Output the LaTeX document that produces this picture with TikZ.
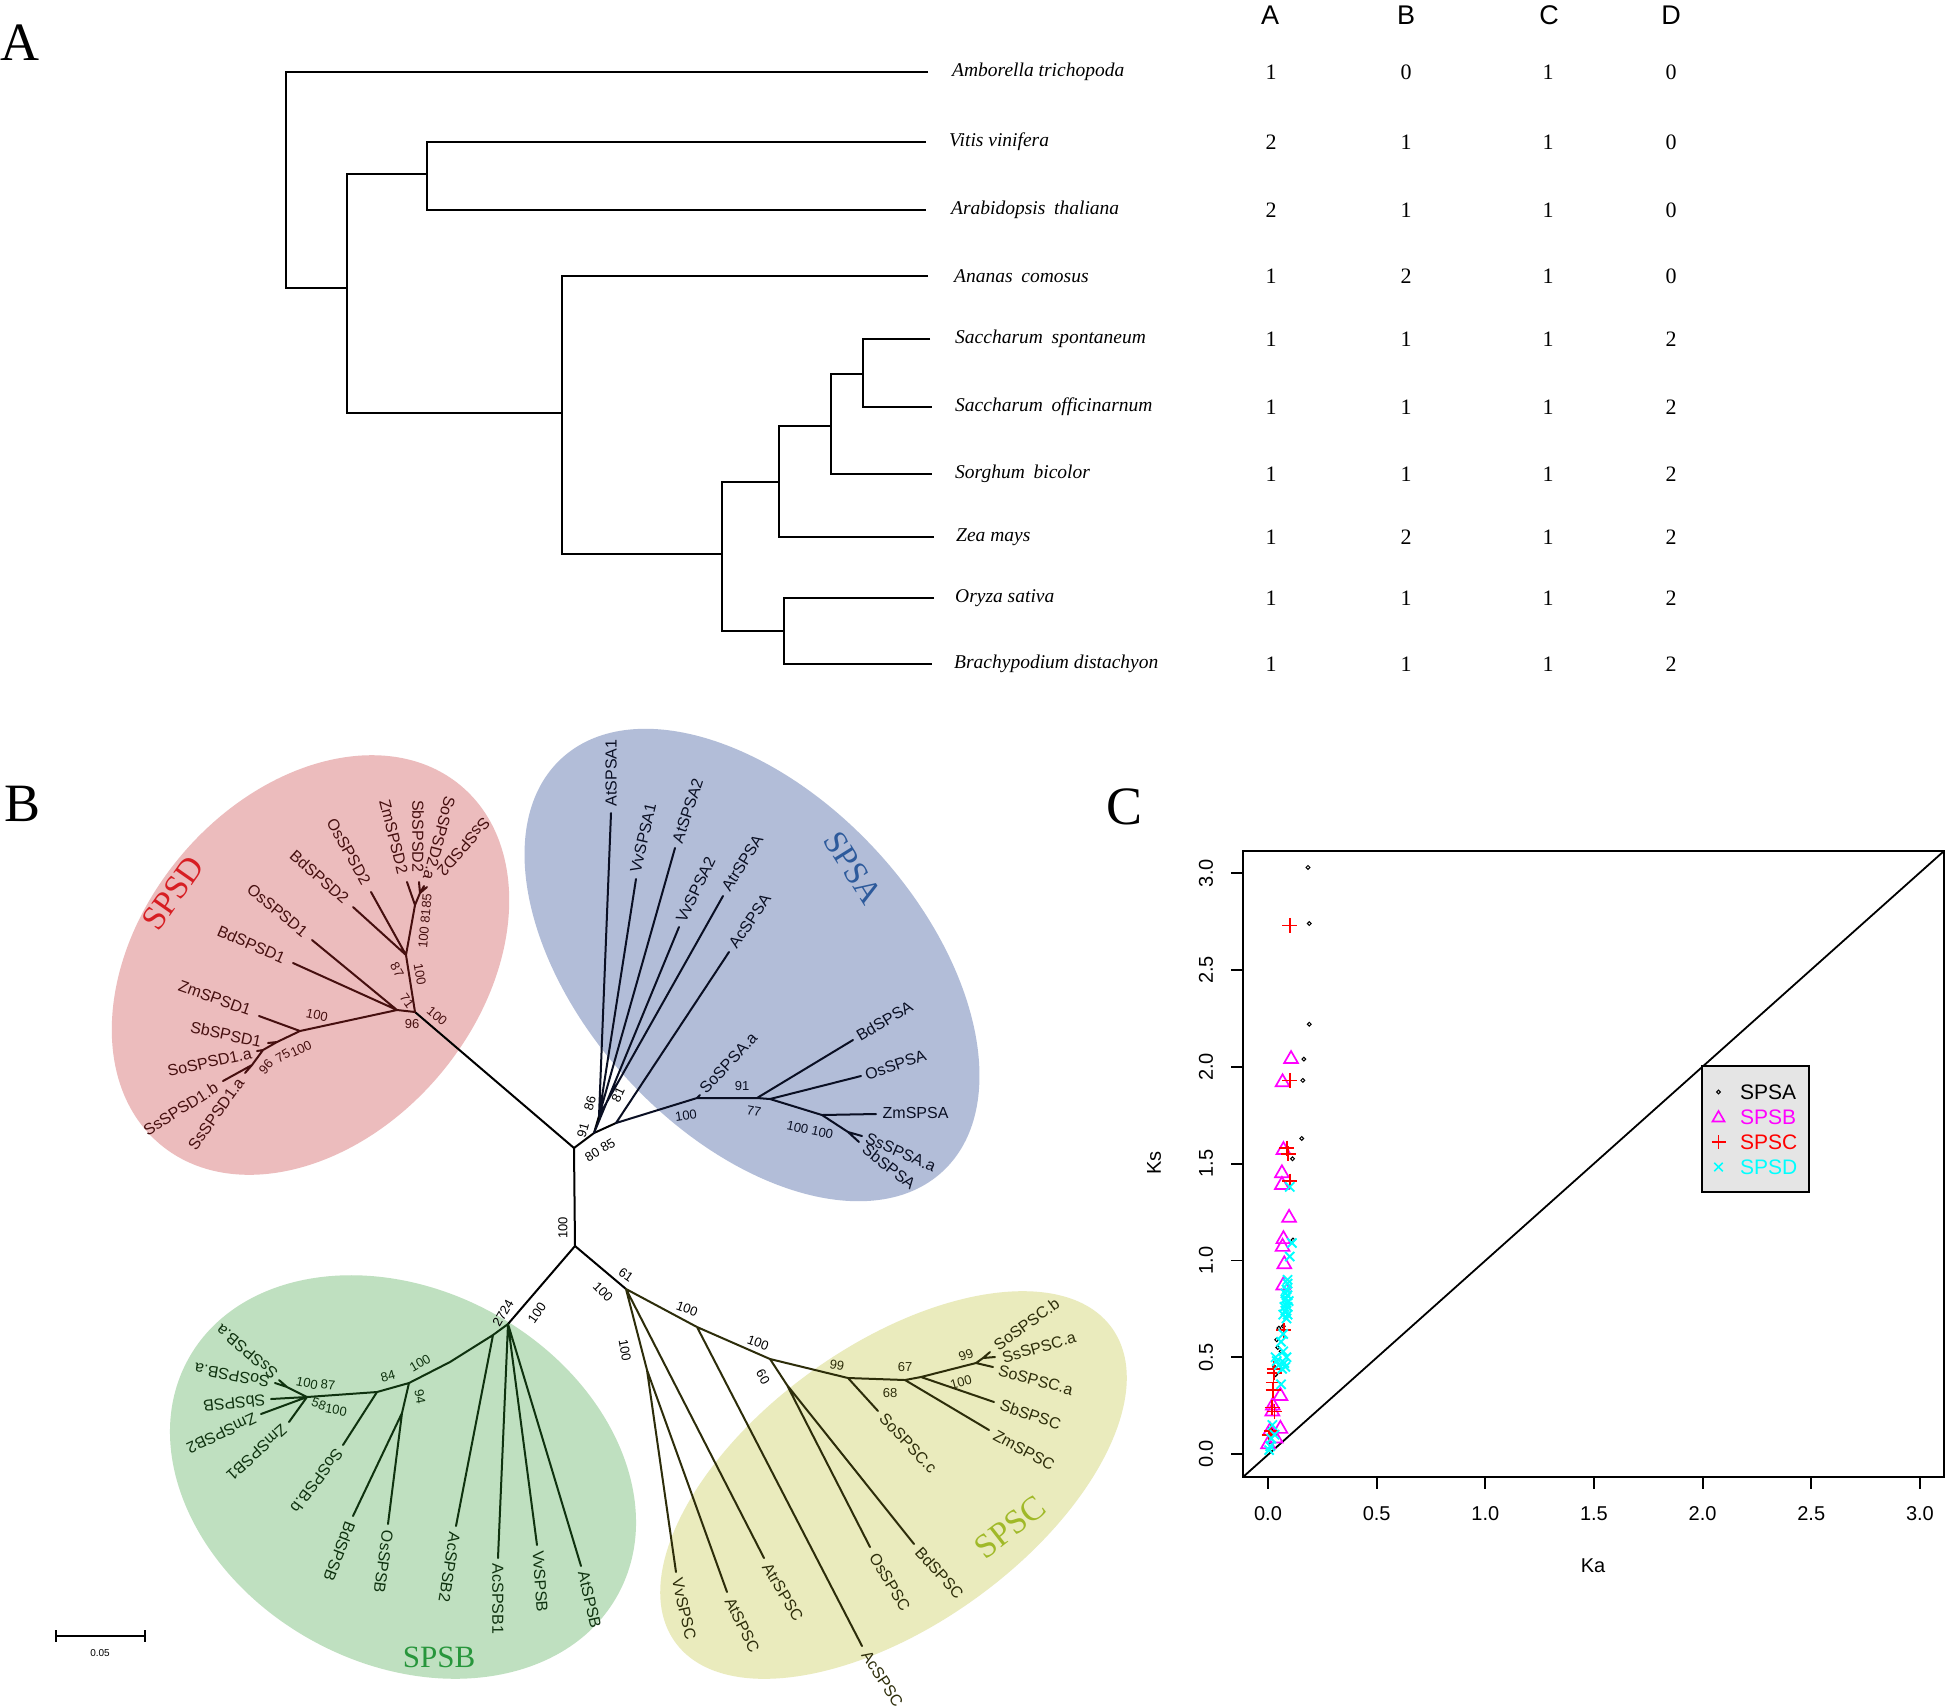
\documentclass[tikz,border=0pt]{standalone}
\usepackage{fontspec}
\setmainfont{Liberation Serif}
\setsansfont{Liberation Sans}
\usetikzlibrary{plotmarks}
\definecolor{pkfill}{RGB}{236,188,189}
\definecolor{blfill}{RGB}{178,189,216}
\definecolor{grfill}{RGB}{191,224,192}
\definecolor{ylfill}{RGB}{234,235,189}
\definecolor{pkink}{RGB}{70,15,15}
\definecolor{blink}{RGB}{10,15,35}
\definecolor{grink}{RGB}{15,50,15}
\definecolor{ylink}{RGB}{45,45,10}
\definecolor{spsdred}{RGB}{215,30,35}
\definecolor{spsablue}{RGB}{45,90,155}
\definecolor{spsbgreen}{RGB}{40,150,60}
\definecolor{spscgreen}{RGB}{160,185,40}
\definecolor{legbg}{RGB}{229,229,229}
\definecolor{mkmag}{RGB}{255,0,255}
\definecolor{mkred}{RGB}{255,0,0}
\definecolor{mkcyan}{RGB}{0,255,255}
\begin{document}
\begin{tikzpicture}[x=1pt,y=-1pt,
  trl/.style={line width=2.3pt},
  br/.style={line width=2pt, line cap=round, line join=round},
  tipl/.style={font=\sffamily\fontsize{16}{18}\selectfont, inner sep=0.5pt},
  boot/.style={font=\sffamily\fontsize{13}{15}\selectfont, inner sep=0pt},
  taxon/.style={font=\rmfamily\itshape\fontsize{19.5}{22}\selectfont, anchor=west, inner sep=0pt},
  num/.style={font=\rmfamily\fontsize{22}{24}\selectfont, inner sep=0pt},
  hdr/.style={font=\sffamily\fontsize{27}{30}\selectfont, inner sep=0pt},
  panel/.style={font=\rmfamily\fontsize{54}{60}\selectfont, inner sep=0pt},
  clade/.style={font=\rmfamily\fontsize{34}{38}\selectfont, inner sep=0pt},
  tick/.style={font=\sffamily\fontsize{20}{22}\selectfont, inner sep=0pt},
  axl/.style={line width=1.8pt}]
\useasboundingbox (0,0) rectangle (1946,1706);
\fill[white] (0,0) rectangle (1946,1706);

%%%%%%%%%%%%%%%% Panel A %%%%%%%%%%%%%%%%
\node[panel] (pA) at (20,43) {A};
\coordinate (tAmb) at (928,72);
\coordinate (tVit) at (926,142);
\coordinate (tAra) at (926,210);
\coordinate (tAna) at (928,276);
\coordinate (tSaS) at (930,339);
\coordinate (tSaO) at (932,407);
\coordinate (tSor) at (932,474);
\coordinate (tZea) at (934,537);
\coordinate (tOry) at (934,598);
\coordinate (tBra) at (932,664);
\coordinate (R) at (286,288);
\coordinate (a1) at (347,288);
\coordinate (a2) at (427,174);
\coordinate (a3) at (562,413);
\coordinate (a4) at (722,554);
\coordinate (a5) at (779,482);
\coordinate (a6) at (831,426);
\coordinate (a7) at (863,374);
\coordinate (a8) at (784,631);
\draw[trl] (tAmb) -| (R) -- (a1);
\draw[trl] (a2) -| (a1) |- (a3);
\draw[trl] (tVit) -| (a2) |- (tAra);
\draw[trl] (tAna) -| (a3) |- (a4);
\draw[trl] (a5) -| (a4) |- (a8);
\draw[trl] (a6) -| (a5) |- (tZea);
\draw[trl] (a7) -| (a6) |- (tSor);
\draw[trl] (tSaS) -| (a7) |- (tSaO);
\draw[trl] (tOry) -| (a8) |- (tBra);
\node[taxon] (lAmb) at (952,72) {Amborella trichopoda};
\node[taxon] (lVit) at (949,142) {Vitis vinifera};
\node[taxon] (lAra) at (951,210) {Arabidopsis\hspace{0.45em}thaliana};
\node[taxon] (lAna) at (954,276) {Ananas\hspace{0.45em}comosus};
\node[taxon] (lSaS) at (955,339) {Saccharum\hspace{0.45em}spontaneum};
\node[taxon] (lSaO) at (955,407) {Saccharum\hspace{0.45em}officinarnum};
\node[taxon] (lSor) at (955,474) {Sorghum\hspace{0.45em}bicolor};
\node[taxon] (lZea) at (956,537) {Zea mays};
\node[taxon] (lOry) at (955,598) {Oryza sativa};
\node[taxon] (lBra) at (954,664) {Brachypodium distachyon};
\node[hdr] (hA) at (1270,15) {A};
\node[hdr] (hB) at (1406,15) {B};
\node[hdr] (hC) at (1549,15) {C};
\node[hdr] (hD) at (1671,15) {D};
\foreach \y/\a/\b/\c/\d [count=\i] in {72/1/0/1/0, 142/2/1/1/0, 210/2/1/1/0, 276/1/2/1/0, 339/1/1/1/2, 407/1/1/1/2, 474/1/1/1/2, 537/1/2/1/2, 598/1/1/1/2, 664/1/1/1/2}{
  \node[num] (nA\i) at (1271,\y) {\a};
  \node[num] (nB\i) at (1406,\y) {\b};
  \node[num] (nC\i) at (1548,\y) {\c};
  \node[num] (nD\i) at (1671,\y) {\d};
}

%%%%%%%%%%%%%%%% Panel B %%%%%%%%%%%%%%%%
\node[panel] (pB) at (23,804) {B};
\fill[pkfill, shift={(310.5,965)}, rotate=50] (0,0) ellipse [x radius=234, y radius=169.5];
\fill[blfill, shift={(752,965)}, rotate=-47.3] (0,0) ellipse [x radius=281, y radius=169];
\fill[grfill, shift={(403,1477)}, rotate=-28.6] (0,0) ellipse [x radius=245, y radius=187];
\fill[ylfill, shift={(893.5,1485)}, rotate=35.7] (0,0) ellipse [x radius=269, y radius=140];

\node[clade, text=spsdred, rotate=55] (cD) at (173,893) {SPSD};
\node[clade, text=spsablue, rotate=-58, font=\rmfamily\fontsize{33}{36}\selectfont] (cA) at (853,868) {SPSA};
\node[clade, text=spsbgreen, font=\rmfamily\fontsize{31}{34}\selectfont] (cB) at (439,1657) {SPSB};
\node[clade, text=spscgreen, rotate=38] (cC) at (1010,1527) {SPSC};

% centre
\coordinate (N0) at (574,1148);
\coordinate (Nbot) at (575,1246);
\draw[br] (N0) -- (Nbot);
\node[boot, rotate=90] (b0) at (563,1228) {100};

% ---- SPSD ----
\coordinate (Nd1) at (415,1012);
\coordinate (Nd1a) at (397,1010);
\coordinate (Nd2) at (406,955);
\coordinate (Nd3) at (415,905);
\coordinate (Nd4) at (420,893);
\coordinate (Nd5) at (300,1031);
\coordinate (Nd6) at (277,1042);
\coordinate (Nd7) at (263,1050);
\coordinate (Nd8) at (252,1065);
\coordinate (tSsDIb) at (223,1081);
\coordinate (tSsDIa) at (245,1073);
\coordinate (tSoDIa) at (257,1051);
\coordinate (tSbDI) at (268,1043);
\coordinate (tZmDI) at (259,1016);
\coordinate (tBdDI) at (293,963);
\coordinate (tOsDI) at (312,940);
\coordinate (tBdDII) at (353,907);
\coordinate (tOsDII) at (371,892);
\coordinate (tZmDII) at (407,882);
\coordinate (tSbDII) at (419,882);
\coordinate (tSoDIIa) at (424,886);
\coordinate (tSsDII) at (427,887);
\draw[br] (N0) -- (Nd1);
\draw[br, pkink] (Nd1) -- (Nd1a) (Nd1a) -- (tBdDI) (Nd1a) -- (tOsDI) (Nd1a) -- (Nd5)
  (Nd5) -- (tZmDI) (Nd5) -- (Nd6) (Nd6) -- (tSbDI) (Nd6) -- (Nd7) (Nd7) -- (tSoDIa)
  (Nd7) -- (Nd8) (Nd8) -- (tSsDIa) (Nd8) -- (tSsDIb)
  (Nd1) -- (Nd2) (Nd2) -- (tBdDII) (Nd2) -- (tOsDII) (Nd2) -- (Nd3) (Nd3) -- (tZmDII)
  (Nd3) -- (Nd4) (Nd4) -- (tSbDII) (Nd4) -- (tSoDIIa) (Nd4) -- (tSsDII);
\node[tipl, text=pkink, rotate=-131, anchor=east] (lSsDII) at (440,874) {SsSPSD2};
\node[tipl, text=pkink, rotate=-105, anchor=east] (lSoDIIa) at (428,880) {SoSPSD2.a};
\node[tipl, text=pkink, rotate=-90, anchor=east] (lSbDII) at (418,873) {SbSPSD2};
\node[tipl, text=pkink, rotate=-76, anchor=east] (lZmDII) at (403,874) {ZmSPSD2};
\node[tipl, text=pkink, rotate=-60.6, anchor=east] (lOsDII) at (367,884) {OsSPSD2};
\node[tipl, text=pkink, rotate=-41.4, anchor=east] (lBdDII) at (347,901) {BdSPSD2};
\node[tipl, text=pkink, rotate=-39.6, anchor=east] (lOsDI) at (306,934) {OsSPSD1};
\node[tipl, text=pkink, rotate=-23.7, anchor=east] (lBdDI) at (285,959) {BdSPSD1};
\node[tipl, text=pkink, rotate=-19.6, anchor=east] (lZmDI) at (251,1011) {ZmSPSD1};
\node[tipl, text=pkink, rotate=-11.8, anchor=east] (lSbDI) at (262,1042) {SbSPSD1};
\node[tipl, text=pkink, rotate=12, anchor=east] (lSoDIa) at (252,1053) {SoSPSD1.a};
\node[tipl, text=pkink, rotate=32, anchor=east] (lSsDIb) at (217,1086) {SsSPSD1.b};
\node[tipl, text=pkink, rotate=54.5, anchor=east] (lSsDIa) at (241,1079) {SsSPSD1.a};
\node[boot, text=pkink, rotate=-40] (bD1) at (437,1016) {100};
\node[boot, text=pkink] (bD2) at (412,1024) {96};
\node[boot, text=pkink, rotate=-55] (bD3) at (407,1001) {71};
\node[boot, text=pkink, rotate=-60] (bD4) at (397,970) {87};
\node[boot, text=pkink, rotate=-80] (bD5) at (420,974) {100};
\node[boot, text=pkink, rotate=85] (bD6) at (425,921) {100 8185};
\node[boot, text=pkink, rotate=-12] (bD7) at (317,1015) {100};
\node[boot, text=pkink, rotate=50] (bD8) at (266,1067) {96};
\node[boot, text=pkink, rotate=30] (bD9) at (283,1056) {75};
\node[boot, text=pkink, rotate=25] (bD10) at (301,1049) {100};

% ---- SPSA ----
\coordinate (N1) at (594,1133);
\coordinate (Na) at (599,1116);
\coordinate (N2) at (616,1123);
\coordinate (N3) at (697,1098);
\coordinate (N4) at (757,1098);
\coordinate (N5) at (770,1099);
\coordinate (N6) at (822,1115);
\coordinate (N7) at (848,1132);
\coordinate (tAtAI) at (611,813);
\coordinate (tVvAI) at (636,879);
\coordinate (tAtAII) at (675,848);
\coordinate (tVvAII) at (679,927);
\coordinate (tAtrA) at (723,896);
\coordinate (tAcA) at (729,952);
\coordinate (tSoAa) at (700,1095);
\coordinate (tBdA) at (853,1040);
\coordinate (tOsA) at (861,1076);
\coordinate (tZmA) at (876,1114);
\coordinate (tSsAa) at (862,1136);
\coordinate (tSbA) at (859,1142);
\draw[br] (N0) -- (N1) (N1) -- (Na) (N1) -- (N2);
\draw[br, blink] (Na) -- (tAtAI) (Na) -- (tVvAI) (Na) -- (tAtAII) (N1) -- (tVvAII) (Na) -- (tAtrA)
  (N2) -- (tAcA) (N2) -- (N3) (N3) -- (tSoAa) (N3) -- (N4) (N4) -- (tBdA) (N4) -- (N5)
  (N5) -- (tOsA) (N5) -- (N6) (N6) -- (tZmA) (N6) -- (N7) (N7) -- (tSsAa) (N7) -- (tSbA);
\node[tipl, text=blink, rotate=90, anchor=west] (lAtAI) at (611,807) {AtSPSA1};
\node[tipl, text=blink, rotate=77, anchor=west] (lVvAI) at (635,873) {VvSPSA1};
\node[tipl, text=blink, rotate=71.6, anchor=west] (lAtAII) at (677,843) {AtSPSA2};
\node[tipl, text=blink, rotate=64, anchor=west] (lVvAII) at (680,922) {VvSPSA2};
\node[tipl, text=blink, rotate=57.5, anchor=west] (lAtrA) at (725,890) {AtrSPSA};
\node[tipl, text=blink, rotate=55.5, anchor=west] (lAcA) at (732,947) {AcSPSA};
\node[tipl, text=blink, rotate=46.7, anchor=west] (lSoAa) at (702,1091) {SoSPSA.a};
\node[tipl, text=blink, rotate=30.5, anchor=west] (lBdA) at (857,1037) {BdSPSA};
\node[tipl, text=blink, rotate=18.4, anchor=west] (lOsA) at (865,1075) {OsSPSA};
\node[tipl, text=blink, anchor=west] (lZmA) at (882,1113) {ZmSPSA};
\node[tipl, text=blink, rotate=-23.8, anchor=west] (lSsAa) at (866,1137) {SsSPSA.a};
\node[tipl, text=blink, rotate=-38, anchor=west] (lSbA) at (864,1147) {SbSPSA};
\node[boot, rotate=75] (bA1) at (590,1103) {86};
\node[boot, rotate=75] (bA2) at (583,1130) {91};
\node[boot, rotate=65] (bA3) at (618,1095) {81};
\node[boot, rotate=31] (bA4) at (600,1150) {80 85};
\node[boot, text=blink, rotate=8] (bA5) at (686,1116) {100};
\node[boot, text=blink] (bA6) at (742,1086) {91};
\node[boot, text=blink, rotate=-10] (bA7) at (754,1111) {77};
\node[boot, text=blink, rotate=-12] (bA8) at (810,1130) {100 100};

% ---- SPSB ----
\coordinate (Nb1) at (508,1324);
\coordinate (Nb1a) at (493,1335);
\coordinate (Nbm) at (450,1362);
\coordinate (Nb3) at (409,1383);
\coordinate (Nb4) at (402,1413);
\coordinate (Nb5) at (377,1392);
\coordinate (Nb6) at (307,1397);
\coordinate (Nbv) at (287,1387);
\coordinate (tAtB) at (581,1566);
\coordinate (tVvB) at (537,1545);
\coordinate (tAcBI) at (498,1558);
\coordinate (tAcBII) at (456,1526);
\coordinate (tOsB) at (388,1524);
\coordinate (tBdB) at (353,1516);
\coordinate (tSoBb) at (343,1445);
\coordinate (tZmBI) at (289,1422);
\coordinate (tZmBII) at (261,1414);
\coordinate (tSbB) at (271,1399);
\coordinate (tSsBa) at (279,1380);
\coordinate (tSoBa) at (275,1383);
\draw[br] (Nbot) -- (Nb1);
\draw[br, grink] (Nb1) -- (tAtB) (Nb1) -- (tVvB) (Nb1) -- (tAcBI) (Nb1) -- (Nb1a) (Nb1a) -- (tAcBII)
  (Nb1a) -- (Nbm) -- (Nb3) (Nb3) -- (Nb4) (Nb4) -- (tOsB) (Nb4) -- (tBdB) (Nb3) -- (Nb5)
  (Nb5) -- (tSoBb) (Nb5) -- (Nb6) (Nb6) -- (tSbB) (Nb6) -- (tZmBII) (Nb6) -- (tZmBI)
  (Nb6) -- (Nbv) (Nbv) -- (tSsBa) (Nbv) -- (tSoBa);
\node[tipl, text=grink, rotate=140, anchor=west] (lSsBa) at (276,1376) {SsSPSB.a};
\node[tipl, text=grink, rotate=170, anchor=west] (lSoBa) at (270,1382) {SoSPSB.a};
\node[tipl, text=grink, rotate=186, anchor=west] (lSbB) at (266,1400) {SbSPSB};
\node[tipl, text=grink, rotate=205, anchor=west] (lZmBII) at (256,1417) {ZmSPSB2};
\node[tipl, text=grink, rotate=222, anchor=west] (lZmBI) at (285,1427) {ZmSPSB1};
\node[tipl, text=grink, rotate=233, anchor=west] (lSoBb) at (340,1450) {SoSPSB.b};
\node[tipl, text=grink, rotate=249, anchor=west] (lBdB) at (351,1522) {BdSPSB};
\node[tipl, text=grink, rotate=262, anchor=west] (lOsB) at (388,1530) {OsSPSB};
\node[tipl, text=grink, rotate=261, anchor=west] (lAcBII) at (455,1532) {AcSPSB2};
\node[tipl, text=grink, rotate=270, anchor=west] (lAcBI) at (498,1563) {AcSPSB1};
\node[tipl, text=grink, rotate=274, anchor=west] (lVvB) at (538,1550) {VvSPSB};
\node[tipl, text=grink, rotate=283, anchor=west] (lAtB) at (583,1571) {AtSPSB};
\node[boot, rotate=60] (bB1) at (503,1313) {2724};
\node[boot, rotate=55] (bB2) at (537,1313) {100};
\node[boot, text=grink, rotate=30] (bB3) at (420,1363) {100};
\node[boot, text=grink, rotate=-80] (bB4) at (420,1397) {94};
\node[boot, text=grink, rotate=15] (bB5) at (388,1376) {84};
\node[boot, text=grink, rotate=-12] (bB6) at (307,1383) {100};
\node[boot, text=grink, rotate=-5] (bB7) at (328,1385) {87};
\node[boot, text=grink, rotate=-20] (bB8) at (319,1404) {58};
\node[boot, text=grink, rotate=-10] (bB9) at (336,1410) {100};

% ---- SPSC ----
\coordinate (Nc1) at (626,1289);
\coordinate (Nc1b) at (647,1370);
\coordinate (Nc2) at (697,1327);
\coordinate (Nc3) at (770,1359);
\coordinate (Nc3b) at (787,1385);
\coordinate (Nc4) at (848,1378);
\coordinate (Nc5) at (905,1380);
\coordinate (Nc6) at (921,1377);
\coordinate (Nc7) at (976,1363);
\coordinate (Nc8) at (983,1358);
\coordinate (tVvC) at (676,1572);
\coordinate (tAtC) at (727,1592);
\coordinate (tAtrC) at (764,1558);
\coordinate (tAcC) at (862,1646);
\coordinate (tOsC) at (870,1547);
\coordinate (tBdC) at (914,1544);
\coordinate (tSoCc) at (878,1411);
\coordinate (tZmC) at (989,1430);
\coordinate (tSbC) at (994,1402);
\coordinate (tSoCa) at (993,1367);
\coordinate (tSoCb) at (990,1352);
\coordinate (tSsCa) at (995,1357);
\draw[br] (Nbot) -- (Nc1);
\draw[br, ylink] (Nc1) -- (Nc1b) (Nc1b) -- (tVvC) (Nc1b) -- (tAtC) (Nc1) -- (tAtrC) (Nc1) -- (Nc2)
  (Nc2) -- (tAcC) (Nc2) -- (Nc3) (Nc3) -- (Nc3b) (Nc3b) -- (tOsC) (Nc3b) -- (tBdC)
  (Nc3) -- (Nc4) (Nc4) -- (tSoCc) (Nc4) -- (Nc5) (Nc5) -- (tZmC) (Nc5) -- (Nc6)
  (Nc6) -- (tSbC) (Nc6) -- (Nc7) (Nc7) -- (tSoCa) (Nc7) -- (Nc8) (Nc8) -- (tSoCb) (Nc8) -- (tSsCa);
\node[tipl, text=ylink, rotate=36, anchor=west] (lSoCb) at (995,1347) {SoSPSC.b};
\node[tipl, text=ylink, rotate=16, anchor=west] (lSsCa) at (1002,1358) {SsSPSC.a};
\node[tipl, text=ylink, rotate=-15, anchor=west] (lSoCa) at (998,1370) {SoSPSC.a};
\node[tipl, text=ylink, rotate=-19, anchor=west] (lSbC) at (1000,1404) {SbSPSC};
\node[tipl, text=ylink, rotate=-28, anchor=west] (lZmC) at (994,1434) {ZmSPSC};
\node[tipl, text=ylink, rotate=-47, anchor=west] (lSoCc) at (882,1415) {SoSPSC.c};
\node[tipl, text=ylink, rotate=-48, anchor=west] (lBdC) at (918,1549) {BdSPSC};
\node[tipl, text=ylink, rotate=-59, anchor=west] (lOsC) at (873,1554) {OsSPSC};
\node[tipl, text=ylink, rotate=-57, anchor=west] (lAcC) at (865,1652) {AcSPSC};
\node[tipl, text=ylink, rotate=-59, anchor=west] (lAtrC) at (766,1564) {AtrSPSC};
\node[tipl, text=ylink, rotate=-64, anchor=west] (lAtC) at (729,1598) {AtSPSC};
\node[tipl, text=ylink, rotate=-77, anchor=west] (lVvC) at (677,1578) {VvSPSC};
\node[boot, rotate=-35] (bC1) at (626,1275) {61};
\node[boot, rotate=-45] (bC2) at (603,1292) {100};
\node[boot, rotate=-80] (bC3) at (625,1350) {100};
\node[boot, rotate=-20] (bC4) at (687,1309) {100};
\node[boot, rotate=-20] (bC5) at (758,1343) {100};
\node[boot, rotate=-60] (bC6) at (763,1377) {60};
\node[boot, text=ylink, rotate=-10] (bC7) at (837,1365) {99};
\node[boot, text=ylink] (bC8) at (905,1367) {67};
\node[boot, text=ylink] (bC9) at (890,1393) {68};
\node[boot, text=ylink, rotate=15] (bC10) at (961,1382) {100};
\node[boot, text=ylink, rotate=20] (bC11) at (966,1355) {99};

% scale bar
\coordinate (sbL) at (56,1636);
\coordinate (sbR) at (145,1636);
\draw[line width=1.5pt] (sbL) -- (sbR);
\draw[line width=1.5pt] ([yshift=6pt]sbL) -- ([yshift=-6pt]sbL) ([yshift=6pt]sbR) -- ([yshift=-6pt]sbR);
\node[font=\sffamily\fontsize{10}{12}\selectfont, inner sep=0pt] (sbT) at (100,1653) {0.05};

%%%%%%%%%%%%%%%% Panel C %%%%%%%%%%%%%%%%
\node[panel] (pC) at (1124,807) {C};
\draw[axl] (1243,851) rectangle (1944,1477);
\draw[axl] (1243,1477) -- (1944,851);
\foreach \v/\t [count=\k] in {0/0.0,0.5/0.5,1/1.0,1.5/1.5,2/2.0,2.5/2.5,3/3.0} {
  \draw[axl] ({1268+217.3*\v},1477) -- ++(0,12);
  \node[tick] (xt\k) at ({1268+217.3*\v},1514) {\t};
  \draw[axl] (1243,{1454-193.6*\v}) -- ++(-12,0);
  \node[tick, rotate=90] (yt\k) at (1206,{1454-193.6*\v}) {\t};
}
\node[tick] (xlab) at (1593,1566) {Ka};
\node[tick, rotate=90] (ylab) at (1154,1163) {Ks};
\begin{scope}[shift={(1268,1454)}, x=217.3pt, y=193.6pt]
  \draw[black, line width=1pt] plot[only marks, mark=o, mark size=1.9pt] coordinates {
    (0.184,3.03) (0.19,2.74) (0.19,2.22) (0.165,2.04) (0.16,1.93) (0.155,1.63) (0.113,1.525)
    (0.115,1.105) (0.05,0.65) (0.04,0.59) (0.07,0.66) (0.045,0.55) (0.06,0.53) (0.02,0.12)
    (0.01,0.05) (0.03,0.45) (0.035,0.41)};
  \draw[mkmag, line width=1.7pt] plot[only marks, mark=triangle, mark size=8pt] coordinates {
    (0.106,2.04) (0.067,1.92) (0.071,1.57) (0.064,1.45) (0.064,1.39) (0.097,1.22) (0.071,1.11)
    (0.067,1.07) (0.075,0.98) (0.07,0.87) (0.057,0.30) (0.022,0.25) (0.02,0.22) (0.057,0.13)
    (0,0.05) (0.01,0.12) (0.035,0.08)};
  \draw[mkred, line width=1.7pt] plot[only marks, mark=+, mark size=7.5pt] coordinates {
    (0.1,2.73) (0.1,1.93) (0.087,1.58) (0.092,1.55) (0.1,1.41) (0.073,0.64) (0.028,0.44)
    (0.03,0.42) (0.025,0.37) (0.024,0.33) (0.019,0.24) (0.03,0.22) (0.005,0.1) (0.015,0.12)};
  \draw[mkcyan, line width=1.9pt] plot[only marks, mark=x, mark size=6.5pt] coordinates {
    (0.1,1.38) (0.11,1.09) (0.1,1.02) (0.09,0.9) (0.085,0.85) (0.09,0.82) (0.08,0.8) (0.085,0.78)
    (0.09,0.76) (0.08,0.74) (0.09,0.72) (0.085,0.7) (0.07,0.62) (0.035,0.5) (0.07,0.53)
    (0.075,0.47) (0.065,0.44) (0.08,0.45) (0.06,0.36) (0.02,0.15) (0.015,0.08) (0.01,0.04)
    (0.03,0.1) (0.005,0.02) (0.04,0.48) (0.06,0.58) (0.09,0.88) (0.08,0.83) (0.075,0.76)
    (0.095,0.79) (0.07,0.72) (0.05,0.46) (0.085,0.5)};
\end{scope}
% legend
\draw[axl, fill=legbg] (1702,1066) rectangle (1809,1192);
\draw[black, line width=1pt] plot[only marks, mark=o, mark size=1.9pt] coordinates {(1718.5,1092)};
\draw[mkmag, line width=1.6pt] plot[only marks, mark=triangle, mark size=7pt] coordinates {(1718.5,1118)};
\draw[mkred, line width=1.6pt] plot[only marks, mark=+, mark size=7pt] coordinates {(1718.5,1142)};
\draw[mkcyan, line width=1.6pt] plot[only marks, mark=x, mark size=6pt] coordinates {(1718.5,1167)};
\node[tick, anchor=west, font=\sffamily\fontsize{21}{23}\selectfont] (lgA) at (1740,1092) {SPSA};
\node[tick, anchor=west, text=mkmag, font=\sffamily\fontsize{21}{23}\selectfont] (lgB) at (1740,1117) {SPSB};
\node[tick, anchor=west, text=mkred, font=\sffamily\fontsize{21}{23}\selectfont] (lgC) at (1740,1142) {SPSC};
\node[tick, anchor=west, text=mkcyan, font=\sffamily\fontsize{21}{23}\selectfont] (lgD) at (1740,1167) {SPSD};
\end{tikzpicture}
\end{document}
